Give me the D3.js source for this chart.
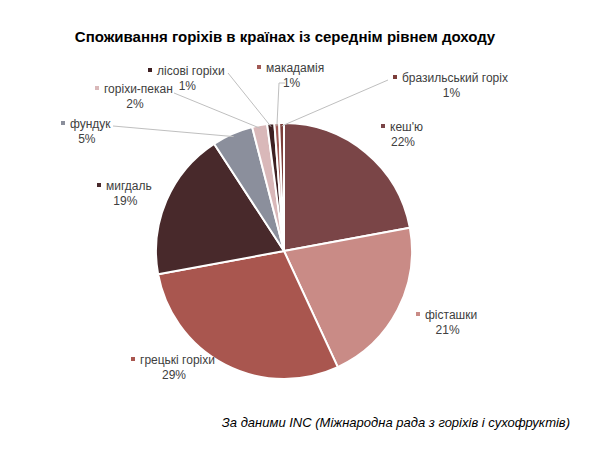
<!doctype html>
<html lang="uk">
<head>
  <meta charset="utf-8">
  <title>nuts</title>
  <style>
  body { margin: 0; background: #fff; }
  svg { font-family: "Liberation Sans", Arial, sans-serif; }
  .lbl { font-size: 12px; fill: #404040; }
  .leader { fill: none; stroke: #bfbfbf; stroke-width: 1; }
  </style>
</head>
<body>
<div id="chart"></div>
<script src="https://cdnjs.cloudflare.com/ajax/libs/d3/7.8.5/d3.min.js"></script>
<script>

// ---------------- data
var nuts = ["кеш'ю", "фісташки", "грецькі горіхи", "мигдаль", "фундук",
            "горіхи-пекан", "лісові горіхи", "макадамія", "бразильський горіх"];
var shares = [22.1, 21.0, 29.0, 18.7, 5.2, 1.9, 0.9, 0.6, 0.6];
var pctLabels = ["22%", "21%", "29%", "19%", "5%", "2%", "1%", "1%", "1%"];

var colors = ["#7a4547", "#c98b86", "#a9564f", "#48292b", "#8b8f9c",
              "#d9b8b9", "#3e2022", "#a15955", "#7c3e3a"];

// label layout: marker position, and leader line knee (null = no leader)
var labelAt = [[383, 126], [418, 314], [133, 359], [99, 185], [63, 123],
               [97, 88], [150, 70], [259, 67], [395, 77]];
var leaderKnee = [null, null, null, null, [113, 126], [174, 93], [228, 73], [279, 83], [388, 80]];
var leaderEnd  = [null, null, null, null, [113, 126], [174, 93], [228, 73], [285, 83], [388, 80]];

var width = 594, height = 459;
var cx = 284, cy = 251, radius = 128;

var svg = d3.select("#chart").append("svg")
    .attr("width", width)
    .attr("height", height);

svg.append("text")
    .attr("x", 285).attr("y", 42)
    .attr("text-anchor", "middle")
    .attr("font-size", "15px")
    .attr("font-weight", "bold")
    .attr("fill", "#000")
    .text("Споживання горіхів в країнах із середнім рівнем доходу");

var data = nuts.map(function(n, i) { return {name: n, value: shares[i], pct: pctLabels[i], i: i}; });

var pie = d3.pie().sort(null).value(function(d) { return d.value; });
var arc = d3.arc().innerRadius(0).outerRadius(radius);
var arcs = pie(data);

var g = svg.append("g").attr("transform", "translate(" + cx + "," + cy + ")");

g.selectAll("path").data(arcs).enter()
    .append("path")
    .attr("d", arc)
    .attr("fill", function(d) { return colors[d.data.i]; })
    .attr("stroke", "#fff")
    .attr("stroke-width", 2)
    .attr("stroke-linejoin", "round");

//------------- leader lines for the small slices
svg.append("g").selectAll("polyline")
    .data(arcs.filter(function(d) { return leaderKnee[d.data.i]; }))
    .enter().append("polyline")
    .attr("class", "leader")
    .attr("points", function(d) {
        var a = (d.startAngle + d.endAngle) / 2;
        var p = [cx + (radius - 3) * Math.sin(a), cy - (radius - 3) * Math.cos(a)];
        var k = leaderKnee[d.data.i], e = leaderEnd[d.data.i];
        return [p, k, e].map(function(q) { return q.join(","); }).join(" ");
    });

//------------- labels
var lab = svg.append("g").selectAll("g").data(data).enter()
    .append("g")
    .attr("transform", function(d) { return "translate(" + labelAt[d.i][0] + "," + labelAt[d.i][1] + ")"; });

lab.append("rect")
    .attr("x", -2).attr("y", -2)
    .attr("width", 4).attr("height", 4)
    .attr("fill", function(d) { return colors[d.i]; });

lab.append("text")
    .attr("class", "lbl")
    .attr("x", 7).attr("y", 4.5)
    .text(function(d) { return d.name; });

lab.each(function(d) {
    var w = d3.select(this).select("text").node().getComputedTextLength();
    d3.select(this).append("text")
        .attr("class", "lbl")
        .attr("x", (w + 7) / 2)
        .attr("y", 20)
        .attr("text-anchor", "middle")
        .text(d.pct);
});

svg.append("text")
    .attr("x", 570).attr("y", 427)
    .attr("text-anchor", "end")
    .attr("font-size", "13px")
    .attr("font-style", "italic")
    .attr("fill", "#000")
    .text("За даними INC (Міжнародна рада з горіхів і сухофруктів)");

</script>
</body>
</html>
